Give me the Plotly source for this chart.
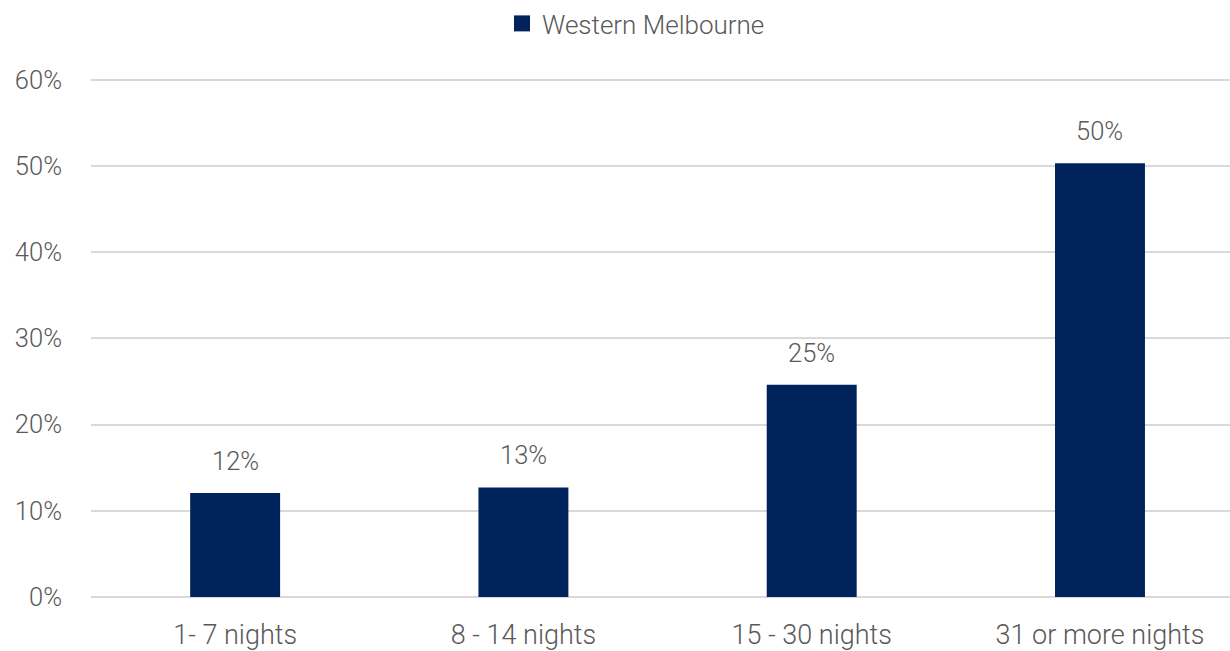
import plotly.graph_objects as go

categories = ["1- 7 nights", "8 - 14 nights", "15 - 30 nights", "31 or more nights"]
values = [0.1205, 0.127, 0.246, 0.503]
series_name = "Western Melbourne"
y_ticks = [0, 0.1, 0.2, 0.3, 0.4, 0.5, 0.6]

NAVY = "#00235B"
GREY = "#595959"
FONT = "Roboto"


def f(size):
    return dict(family=FONT, size=size, color=GREY, weight=300)


fig = go.Figure()
fig.add_trace(go.Bar(
    x=categories, y=values, width=0.312, marker_color=NAVY,
    marker_line_width=0, showlegend=False, name=series_name,
))
fig.add_trace(go.Scatter(
    x=[None], y=[None], mode="markers", name=series_name,
    marker=dict(symbol="square", size=18, color=NAVY), showlegend=True,
))
for c, v in zip(categories, values):
    fig.add_annotation(x=c, y=v, text=f"{v:.0%}", showarrow=False,
                       yanchor="bottom", yshift=15, font=f(25.5))

fig.update_layout(
    width=1230, height=651,
    margin=dict(l=91, r=0, t=77, b=54, autoexpand=False),
    plot_bgcolor="white", paper_bgcolor="white",
    font=f(25.5),
    legend=dict(orientation="h", x=0.4785, xanchor="center",
                yref="container", y=1.0, yanchor="top",
                font=f(26), itemwidth=30, bgcolor="rgba(0,0,0,0)"),
    xaxis=dict(range=[-0.5, 3.451], showgrid=False, showline=False, ticks="",
               ticklabelstandoff=19, tickfont=f(27)),
    yaxis=dict(range=[0, 0.603], tickvals=y_ticks, tickformat=".0%",
               gridcolor="#D9D9D9", gridwidth=1.5, zeroline=True, zerolinecolor="#D9D9D9",
               zerolinewidth=1.5, showline=False, ticks="", ticklabelstandoff=28,
               tickfont=f(25.5)),
)
fig.write_html("out.html", config={"displayModeBar": False},
               post_script="document.body.style.margin='0';")
